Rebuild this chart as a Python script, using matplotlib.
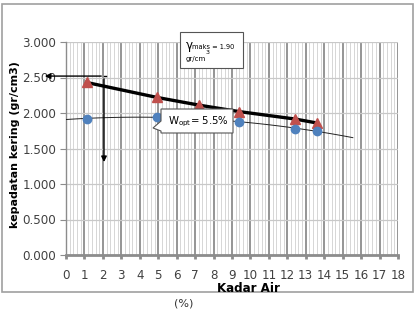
import numpy as np
import matplotlib
matplotlib.use("Agg")
import matplotlib.pyplot as plt
from matplotlib.patches import Rectangle, Polygon

# Data
zav_x = [1.12, 4.92, 7.23, 9.38, 12.42, 13.59]
zav_y = [2.43, 2.22, 2.11, 2.02, 1.915, 1.86]
dry_x = [1.12, 4.92, 9.38, 12.42, 13.59]
dry_y = [1.92, 1.95, 1.87, 1.78, 1.75]
y_ticks = [0.0, 0.5, 1.0, 1.5, 2.0, 2.5, 3.0]
x_ticks = list(range(0, 19))
gamma_max = 2.52
w_opt = 2.06
ylabel = "kepadatan kering (gr/cm3)"
xlabel = "Kadar Air"

fig = plt.figure(figsize=(4.15, 3.12), dpi=100)
fig.patch.set_facecolor("white")
ax = fig.add_axes([66/415, 1-255/312, 332/415, 213/312])
ax.set_xlim(0, 18)
ax.set_ylim(0, 3.0)

# grid
ax.set_xticks(x_ticks)
ax.set_xticks(np.arange(0, 18.01, 0.2), minor=True)
ax.set_yticks(y_ticks)
ax.set_yticklabels([f"{v:.3f}" for v in y_ticks], fontsize=8.6, color="#404040")
ax.set_xticklabels([str(v) for v in x_ticks], fontsize=8.6, color="#404040")
ax.grid(which="minor", axis="x", color="#d0d0d0", lw=0.6)
ax.grid(which="major", axis="x", color="#8c8c8c", lw=1.3)
ax.grid(which="major", axis="y", color="#c8c8c8", lw=0.9)
ax.set_axisbelow(True)
for s in ["top", "right"]:
    ax.spines[s].set_visible(False)
ax.spines["bottom"].set_color("#8c8c8c")
ax.spines["bottom"].set_linewidth(2)
ax.spines["left"].set_color("#8c8c8c")
ax.spines["left"].set_linewidth(1)
ax.tick_params(axis="x", which="major", length=3, width=2, color="#8c8c8c", pad=7)
ax.tick_params(axis="x", which="minor", length=0)
ax.tick_params(axis="y", length=4, color="#8c8c8c", pad=3)

# trendline
coef = np.polyfit(dry_x, dry_y, 2)
tx = np.linspace(0, 15.55, 100)
ax.plot(tx, np.polyval(coef, tx), color="#222222", lw=0.7, zorder=3)
# thick line through zav
ax.plot(zav_x, zav_y, color="black", lw=2.4, zorder=4)
ax.plot(zav_x, zav_y, linestyle="none", marker="^", ms=6.5, color="#C0504D", zorder=5)
ax.plot(dry_x, dry_y, linestyle="none", marker="o", ms=6, color="#4F81BD", zorder=5)

# arrows
ax.plot([w_opt, 2.17], [gamma_max, gamma_max], color="black", lw=1, clip_on=False, zorder=6)
ax.annotate("", xy=(-1.3, gamma_max), xytext=(w_opt, gamma_max),
            arrowprops=dict(arrowstyle="-|>", color="black", lw=1, mutation_scale=8),
            annotation_clip=False, zorder=6)
ax.annotate("", xy=(w_opt, 1.27), xytext=(w_opt, gamma_max),
            arrowprops=dict(arrowstyle="-|>", color="black", lw=1, mutation_scale=8),
            annotation_clip=False, zorder=6)

# callout boxes (figure pixel coords)
def px(x, y):
    return (x/415, 1 - y/312)

rect = Rectangle(px(180, 68), 63/415, 36/312, transform=fig.transFigure,
                 facecolor="white", edgecolor="#555555", lw=0.8, zorder=10)
fig.patches.append(rect)
fig.text(*px(186, 45), "γ", fontsize=8.5, va="center", ha="left", zorder=11)
fig.text(*px(192, 47), "maks = 1.90", fontsize=4.8, va="center", ha="left", zorder=11)
fig.text(*px(206, 53), "3", fontsize=4.6, va="center", ha="left", zorder=11)
fig.text(*px(186, 59), "gr/cm", fontsize=5, va="center", ha="left", zorder=11)

poly = Polygon([px(161, 109), px(233, 109), px(233, 133), px(161, 133),
                px(161, 131), px(153, 128), px(161, 121)], closed=True,
               transform=fig.transFigure, facecolor="white", edgecolor="#555555",
               lw=0.8, zorder=10)
fig.patches.append(poly)
fig.text(*px(168, 122), r"W$_{\mathrm{opt}}$= 5.5%", fontsize=7.3, va="center",
         ha="left", zorder=11)

# labels
fig.text(*px(15, 145), ylabel, rotation=90, fontsize=8, fontweight="bold",
         va="center", ha="center")
fig.text(*px(248, 288), xlabel, fontsize=8.6, fontweight="bold", va="center", ha="center")
fig.text(*px(184, 304), "(%)", fontsize=8, va="center", ha="center", color="#333333")

# outer border
border = Rectangle((2/415, 1-292/312), 411/415, 288/312, transform=fig.transFigure,
                   facecolor="none", edgecolor="#a0a0a0", lw=1.2, zorder=0)
fig.patches.append(border)

fig.savefig("out.png", dpi=100)
